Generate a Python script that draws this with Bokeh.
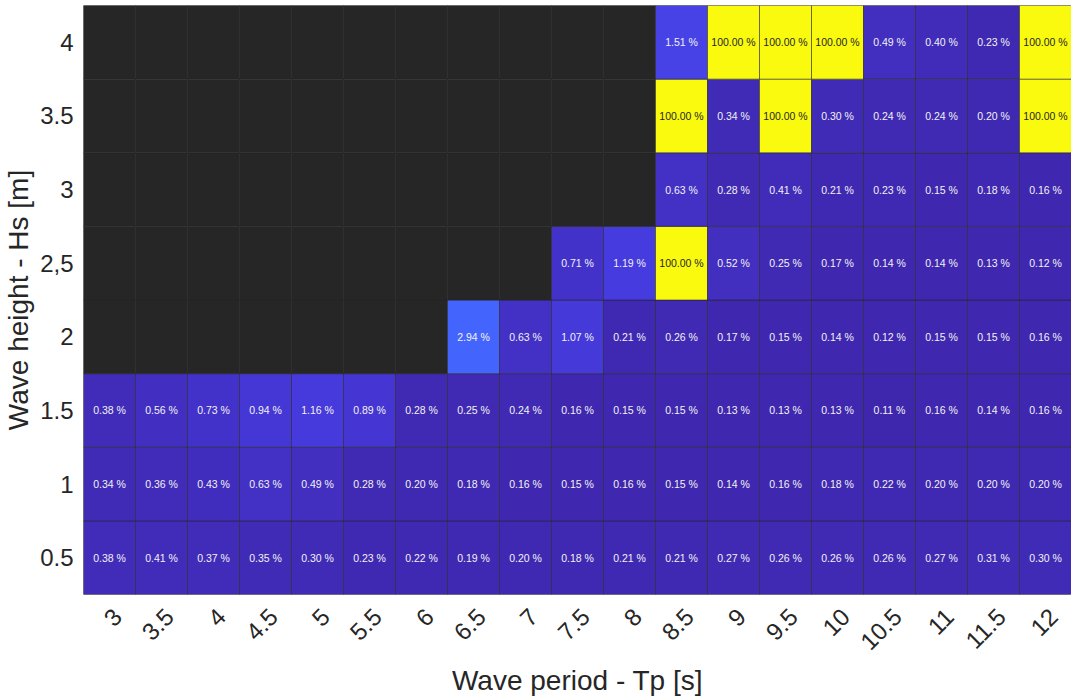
import math
import numpy as np
from bokeh.plotting import figure
from bokeh.models import ColumnDataSource, LinearColorMapper, FixedTicker, LinearAxis, Range1d
from bokeh.core.properties import value
from bokeh.embed import file_html
from bokeh.resources import INLINE

# ---- data ----
tp_values = [3, 3.5, 4, 4.5, 5, 5.5, 6, 6.5, 7, 7.5, 8, 8.5, 9, 9.5, 10, 10.5, 11, 11.5, 12]
tp_labels = ["3", "3.5", "4", "4.5", "5", "5.5", "6", "6.5", "7", "7.5", "8", "8.5", "9",
             "9.5", "10", "10.5", "11", "11.5", "12"]
hs_values = [0.5, 1, 1.5, 2, 2.5, 3, 3.5, 4]
hs_labels = ["0.5", "1", "1.5", "2", "2,5", "3", "3.5", "4"]
N = float("nan")
row_0_5 = [0.38, 0.41, 0.37, 0.35, 0.30, 0.23, 0.22, 0.19, 0.20, 0.18, 0.21, 0.21, 0.27, 0.26, 0.26, 0.26, 0.27, 0.31, 0.30]
row_1_0 = [0.34, 0.36, 0.43, 0.63, 0.49, 0.28, 0.20, 0.18, 0.16, 0.15, 0.16, 0.15, 0.14, 0.16, 0.18, 0.22, 0.20, 0.20, 0.20]
row_1_5 = [0.38, 0.56, 0.73, 0.94, 1.16, 0.89, 0.28, 0.25, 0.24, 0.16, 0.15, 0.15, 0.13, 0.13, 0.13, 0.11, 0.16, 0.14, 0.16]
row_2_0 = [N, N, N, N, N, N, N, 2.94, 0.63, 1.07, 0.21, 0.26, 0.17, 0.15, 0.14, 0.12, 0.15, 0.15, 0.16]
row_2_5 = [N, N, N, N, N, N, N, N, N, 0.71, 1.19, 100.00, 0.52, 0.25, 0.17, 0.14, 0.14, 0.13, 0.12]
row_3_0 = [N, N, N, N, N, N, N, N, N, N, N, 0.63, 0.28, 0.41, 0.21, 0.23, 0.15, 0.18, 0.16]
row_3_5 = [N, N, N, N, N, N, N, N, N, N, N, 100.00, 0.34, 100.00, 0.30, 0.24, 0.24, 0.20, 100.00]
row_4_0 = [N, N, N, N, N, N, N, N, N, N, N, 1.51, 100.00, 100.00, 100.00, 0.49, 0.40, 0.23, 100.00]
rows = [row_0_5, row_1_0, row_1_5, row_2_0, row_2_5, row_3_0, row_3_5, row_4_0]

# ---- parula (first quarter of 256 entries) ----
parula_low = [
    (0.2422, 0.1504, 0.6603), (0.2444, 0.1534, 0.6728), (0.2464, 0.1569, 0.6847), (0.2484, 0.1607, 0.6961),
    (0.2503, 0.1648, 0.7071), (0.2522, 0.1689, 0.7179), (0.2540, 0.1732, 0.7286), (0.2558, 0.1773, 0.7393),
    (0.2576, 0.1814, 0.7501), (0.2594, 0.1854, 0.7610), (0.2611, 0.1893, 0.7719), (0.2628, 0.1932, 0.7828),
    (0.2645, 0.1972, 0.7937), (0.2661, 0.2011, 0.8043), (0.2676, 0.2052, 0.8148), (0.2691, 0.2094, 0.8249),
    (0.2704, 0.2138, 0.8346), (0.2717, 0.2184, 0.8439), (0.2729, 0.2231, 0.8528), (0.2740, 0.2280, 0.8612),
    (0.2749, 0.2330, 0.8692), (0.2758, 0.2382, 0.8767), (0.2766, 0.2435, 0.8840), (0.2774, 0.2489, 0.8908),
    (0.2781, 0.2543, 0.8973), (0.2788, 0.2598, 0.9035), (0.2794, 0.2653, 0.9094), (0.2798, 0.2708, 0.9150),
    (0.2802, 0.2764, 0.9204), (0.2806, 0.2819, 0.9255), (0.2809, 0.2875, 0.9305), (0.2811, 0.2930, 0.9352),
    (0.2813, 0.2985, 0.9397), (0.2814, 0.3040, 0.9441), (0.2814, 0.3095, 0.9483), (0.2813, 0.3150, 0.9524),
    (0.2811, 0.3204, 0.9563), (0.2809, 0.3259, 0.9600), (0.2807, 0.3313, 0.9636), (0.2803, 0.3367, 0.9670),
    (0.2798, 0.3421, 0.9702), (0.2791, 0.3475, 0.9733), (0.2784, 0.3529, 0.9763), (0.2776, 0.3583, 0.9791),
    (0.2766, 0.3638, 0.9817), (0.2754, 0.3693, 0.9840), (0.2741, 0.3748, 0.9862), (0.2726, 0.3804, 0.9881),
    (0.2710, 0.3860, 0.9898), (0.2691, 0.3916, 0.9912), (0.2670, 0.3973, 0.9924), (0.2647, 0.4030, 0.9935),
    (0.2621, 0.4088, 0.9946), (0.2591, 0.4145, 0.9955), (0.2556, 0.4203, 0.9965), (0.2517, 0.4261, 0.9974),
    (0.2473, 0.4319, 0.9983), (0.2424, 0.4378, 0.9991), (0.2369, 0.4437, 0.9996), (0.2311, 0.4497, 0.9995),
    (0.2250, 0.4559, 0.9985), (0.2189, 0.4620, 0.9968), (0.2128, 0.4682, 0.9948), (0.2066, 0.4743, 0.9926),
]
palette = ["#%02x%02x%02x" % tuple(int(round(c * 255)) for c in rgb) for rgb in parula_low]
mapper = LinearColorMapper(palette=palette, low=0, high=15 * 64 / 256,
                           high_color="#f9fa0e", nan_color="#262626")

xs, ys, vals, txt, tcol = [], [], [], [], []
for hs, row in zip(hs_values, rows):
    for tp, v in zip(tp_values, row):
        xs.append(tp)
        ys.append(hs)
        vals.append(v)
        if math.isnan(v):
            txt.append("")
        else:
            txt.append("%.2f %%" % v)
        tcol.append("#262626" if (not math.isnan(v) and v > 50) else "#f2f2f2")

src = ColumnDataSource(dict(x=xs, y=ys, v=vals, t=txt, c=tcol))

FRAME_W = 988
x_lo, x_hi = 2.75, 12.25
p = figure(frame_width=FRAME_W, frame_height=589,
           x_range=(x_lo, x_hi), y_range=(0.25, 4.25),
           x_axis_location=None,
           output_backend="svg", toolbar_location=None,
           min_border_left=0, min_border_right=0, min_border_top=5, min_border_bottom=0)
p.background_fill_color = "white"
p.outline_line_color = "#a6a6a6"
p.grid.visible = False

p.rect(x="x", y="y", width=0.5, height=0.5, source=src,
       fill_color={"field": "v", "transform": mapper},
       line_color="#262626", line_width=0.8, line_alpha=0.7)
p.text(x="x", y="y", text="t", source=src, text_color="c",
       text_font=value("Liberation Sans"), text_font_size="10.5px",
       text_align="center", text_baseline="middle")

# label axis shifted a few pixels right (rotated labels anchored like the original)
shift = 8 * (x_hi - x_lo) / FRAME_W
p.extra_x_ranges = {"lab": Range1d(x_lo - shift, x_hi - shift)}
xaxis = LinearAxis(x_range_name="lab")
p.add_layout(xaxis, "below")

xaxis.ticker = FixedTicker(ticks=tp_values)
xaxis.major_label_overrides = {t: l for t, l in zip(tp_values, tp_labels)}
p.yaxis.ticker = FixedTicker(ticks=hs_values)
p.yaxis.major_label_overrides = {h: l for h, l in zip(hs_values, hs_labels)}
xaxis.major_label_orientation = math.pi / 4
xaxis.axis_label = "Wave period - Tp [s]"
p.yaxis.axis_label = "Wave height - Hs [m]"
for ax in (xaxis, p.yaxis[0]):
    ax.axis_line_color = None
    ax.major_tick_line_color = None
    ax.minor_tick_line_color = None
    ax.major_label_text_font = "Liberation Sans"
    ax.major_label_text_font_size = "24px"
    ax.major_label_text_color = "#262626"
    ax.axis_label_text_font = "Liberation Sans"
    ax.axis_label_text_font_size = "28px"
    ax.axis_label_text_font_style = "normal"
    ax.axis_label_text_color = "#262626"
p.yaxis.major_label_standoff = 4
p.yaxis.axis_label_standoff = 3
xaxis.major_label_standoff = 12
xaxis.axis_label_standoff = 4

open("out.html", "w").write(file_html(p, INLINE))
